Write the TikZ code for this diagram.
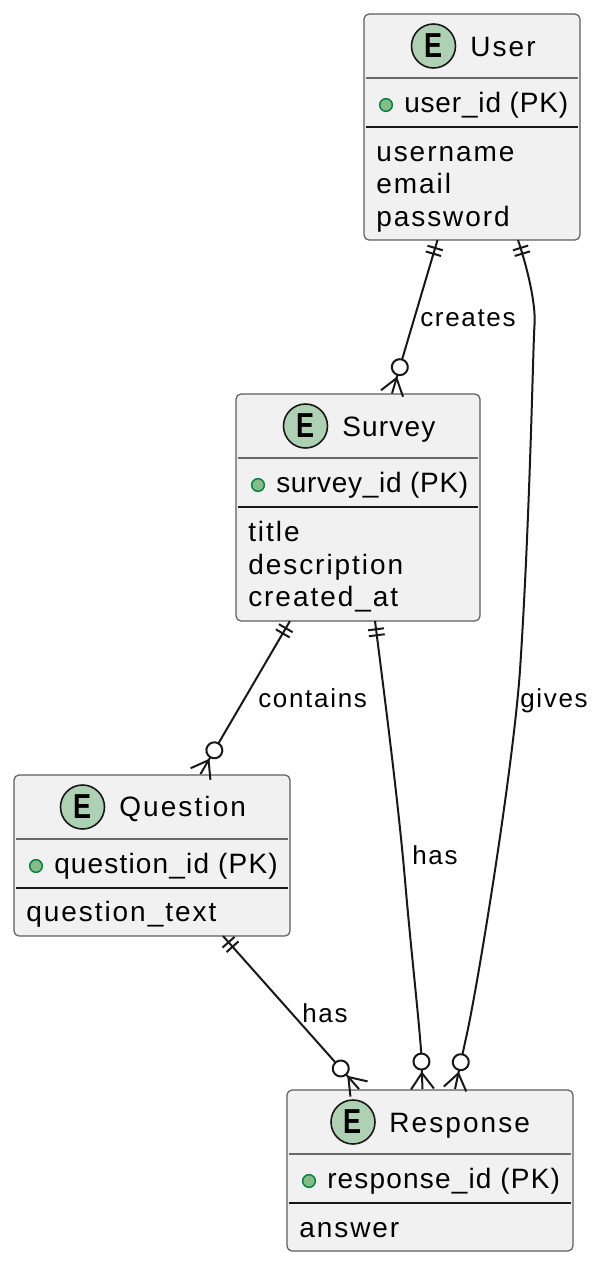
\documentclass[tikz,border=0pt]{standalone}
\usepackage{fontspec}
\setmainfont{Liberation Sans}
\newfontfamily\attrfont[LetterSpace=7]{Liberation Sans}
\newfontfamily\titlefont[LetterSpace=7.5]{Liberation Sans}
\newfontfamily\keyfont[LetterSpace=3]{Liberation Sans}
\newfontfamily\widekeyfont[LetterSpace=4.2]{Liberation Sans}
\newfontfamily\tightkeyfont[LetterSpace=2.5]{Liberation Sans}
\newfontfamily\relfont[LetterSpace=6.5]{Liberation Sans}
\newfontfamily\spotfont[FakeStretch=.78]{Liberation Sans}
\usetikzlibrary{%
  calc,
  decorations,
  decorations.markings
}
\definecolor{boxfill}{HTML}{F1F1F1}
\definecolor{boxline}{HTML}{181818}
\definecolor{spotfill}{HTML}{ADD1B2}
\definecolor{keyfill}{HTML}{84BE84}
\definecolor{keyline}{HTML}{038048}
\tikzset{entity/.style = {draw=boxline!70,fill=boxfill,line width=.9pt,rounded corners=3.75pt,
    inner sep=0,outer sep=0}}
\tikzset{spot/.style = {circle,draw=boxline,fill=spotfill,line width=1.2pt,minimum size=33pt,inner sep=0,
    font=\spotfont\fontsize{26}{26}\selectfont\bfseries}}
\tikzset{keydot/.style = {circle,draw=keyline,fill=keyfill,line width=1.1pt,minimum size=9.5pt,inner sep=0}}
\tikzset{title/.style = {anchor=base west,inner sep=0,font=\titlefont\fontsize{21}{21}\selectfont}}
\tikzset{attr/.style = {anchor=base west,inner sep=0,font=\attrfont\fontsize{21}{21}\selectfont}}
\tikzset{keyattr/.style = {anchor=base west,inner sep=0,font=\keyfont\fontsize{21}{21}\selectfont}}
\tikzset{rellabel/.style = {anchor=base west,inner sep=0,font=\relfont\fontsize{19.5}{19.5}\selectfont}}
\tikzset{softrule/.style = {draw=boxline!65,line width=1pt}}
\tikzset{hardrule/.style = {draw=boxline,line width=1.5pt}}
\tikzset{rel/.style = {draw=boxline,line width=1.5pt,postaction={decorate},
    decoration={markings,
      mark=at position 6.25pt with {\draw[boxline,line width=1.5pt] (0,-6pt) -- (0,6pt);},
      mark=at position 10.75pt with {\draw[boxline,line width=1.5pt] (0,-6pt) -- (0,6pt);},
      mark=at position -20.6pt with {\draw[boxline,fill=white,line width=1.5pt] (0,0) circle (6pt);},
      mark=at position -12pt with {\draw[boxline,line width=1.5pt] (12pt,8.6pt) -- (0,0) -- (12pt,-8.6pt);}
    }}}

\begin{document}
\begin{tikzpicture}[x=.75pt,y=-.75pt]
  \useasboundingbox (0,0) rectangle (602,1264);

  % user
  \node[entity,minimum width=162pt,minimum height=169.5pt] (user) at (472,127) {};
  \node[spot] (userE) at (433.5,46) {E};
  \node[title] (userT) at (470,56) {User};
  \draw[softrule] ($(user.north west)+(2,64)$) -- ($(user.north east)+(-2,64)$);
  \node[keydot] (userK) at (386,105) {};
  \node[keyattr] (userId) at (404,112) {user\_id (PK)};
  \draw[hardrule] ($(user.north west)+(2,113)$) -- ($(user.north east)+(-2,113)$);
  \node[attr] (userA) at (376,161) {username};
  \node[attr] (userB) at (376,193.5) {email};
  \node[attr] (userC) at (376,226) {password};

  % survey
  \node[entity,minimum width=183pt,minimum height=170.25pt] (survey) at (358,507.5) {};
  \node[spot] (surveyE) at (305.5,426) {E};
  \node[title,font=\widekeyfont\fontsize{21}{21}\selectfont] (surveyT) at (342,436) {Survey};
  \draw[softrule] ($(survey.north west)+(2,64)$) -- ($(survey.north east)+(-2,64)$);
  \node[keydot] (surveyK) at (258,485) {};
  \node[keyattr,font=\tightkeyfont\fontsize{21}{21}\selectfont] (surveyId) at (276,492) {survey\_id (PK)};
  \draw[hardrule] ($(survey.north west)+(2,113)$) -- ($(survey.north east)+(-2,113)$);
  \node[attr] (surveyA) at (248,541) {title};
  \node[attr] (surveyB) at (248,574) {description};
  \node[attr] (surveyC) at (248,606) {created\_at};

  % question
  \node[entity,minimum width=207pt,minimum height=120.75pt] (question) at (152,855.5) {};
  \node[spot] (questionE) at (82.5,807) {E};
  \node[title] (questionT) at (119,816) {Question};
  \draw[softrule] ($(question.north west)+(2,64)$) -- ($(question.north east)+(-2,64)$);
  \node[keydot] (questionK) at (36,866) {};
  \node[keyattr,font=\widekeyfont\fontsize{21}{21}\selectfont] (questionId) at (54,873) {question\_id (PK)};
  \draw[hardrule] ($(question.north west)+(2,112.5)$) -- ($(question.north east)+(-2,112.5)$);
  \node[attr] (questionA) at (26,921) {question\_text};

  % response
  \node[entity,minimum width=214.5pt,minimum height=120.75pt] (response) at (430,1170.5) {};
  \node[spot] (responseE) at (353,1122) {E};
  \node[title] (responseT) at (389,1132) {Response};
  \draw[softrule] ($(response.north west)+(2,64)$) -- ($(response.north east)+(-2,64)$);
  \node[keydot] (responseK) at (309,1181) {};
  \node[keyattr,font=\widekeyfont\fontsize{21}{21}\selectfont] (responseId) at (327,1188) {response\_id (PK)};
  \draw[hardrule] ($(response.north west)+(2,113)$) -- ($(response.north east)+(-2,113)$);
  \node[attr] (responseA) at (299,1237) {answer};

  % relations
  \coordinate (creates-a) at ($(user.south)+(-34.5,0)$);
  \coordinate (creates-b) at ($(survey.north)+(34,-.5)$);
  \coordinate (gives-a) at ($(user.south)+(46,0)$);
  \coordinate (gives-b) at ($(response.north)+(25,-1)$);
  \coordinate (contains-a) at ($(survey.south)+(-68,0)$);
  \coordinate (contains-b) at ($(question.north)+(48.5,-1)$);
  \coordinate (hasr-a) at ($(survey.south)+(17,0)$);
  \coordinate (hasr-b) at ($(response.north)+(-7.5,-1)$);
  \coordinate (hasq-a) at ($(question.south)+(71,0)$);
  \coordinate (hasq-b) at ($(response.north)+(-71,-1)$);

  \draw[rel] (creates-a) -- (creates-b);
  \draw[rel] (gives-a) .. controls (528,270) and (536,305) .. (534.5,325)
    .. controls (533,345) and (530,520) .. (520,670)
    .. controls (513,770) and (477,990) .. (466,1038) -- (gives-b);
  \draw[rel] (contains-a) -- (contains-b);
  \draw[rel] (hasr-a) .. controls (385,700) and (398,800) .. (405,880)
    .. controls (411,950) and (418,1010) .. (421,1050) -- (hasr-b);
  \draw[rel] (hasq-a) -- (hasq-b);

  \node[rellabel] (createsL) at (420,326) {creates};
  \node[rellabel] (givesL) at (520,707) {gives};
  \node[rellabel] (containsL) at (258,707) {contains};
  \node[rellabel] (hasrL) at (412,864) {has};
  \node[rellabel] (hasqL) at (302,1022) {has};
\end{tikzpicture}
\end{document}
